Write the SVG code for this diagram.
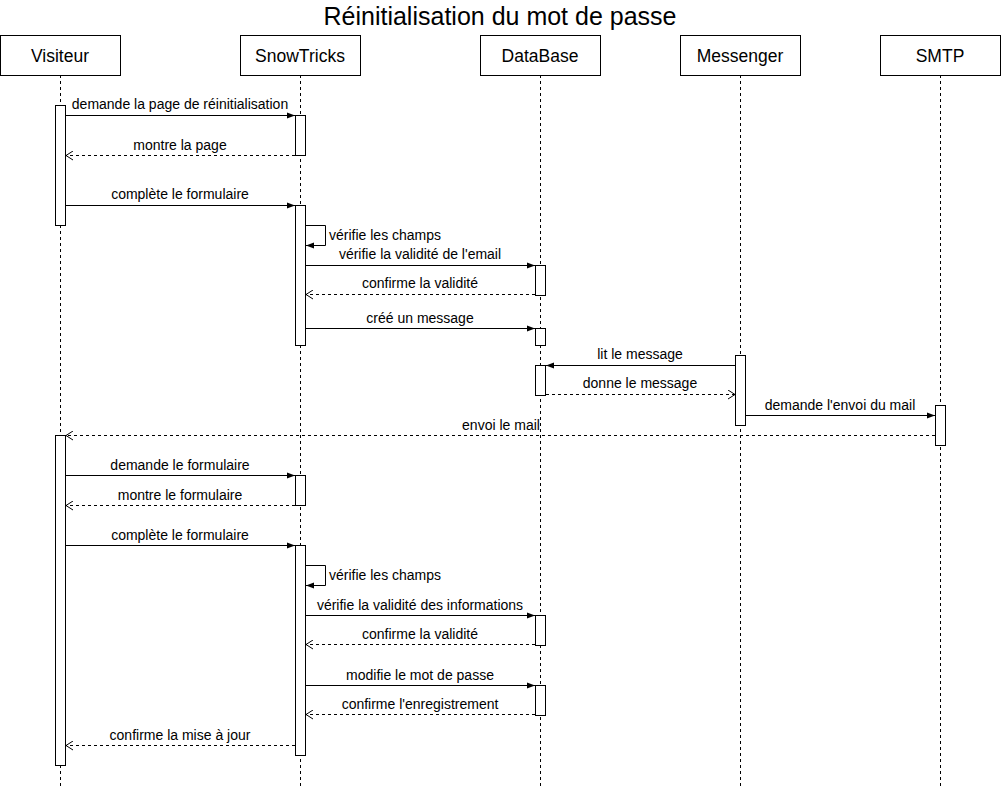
<svg xmlns="http://www.w3.org/2000/svg" width="1002" height="786" viewBox="0 0 1002 786">
<defs>
<style>
.box{fill:#fff;stroke:#000;stroke-width:1}
.life{stroke:#000;stroke-width:1;stroke-dasharray:3 3;fill:none}
.act{fill:#fff;stroke:#000;stroke-width:1}
.msg{stroke:#000;stroke-width:1;fill:none;marker-end:url(#filled)}
.ret{stroke:#000;stroke-width:1;fill:none;stroke-dasharray:3 3;marker-end:url(#open)}
.pt{font-family:"Liberation Sans",Arial,sans-serif;font-size:17.5px;fill:#000;text-anchor:middle}
.lb{font-family:"Liberation Sans",Arial,sans-serif;font-size:14px;fill:#000;text-anchor:middle}
.lbl{font-family:"Liberation Sans",Arial,sans-serif;font-size:14px;fill:#000;text-anchor:start}
.title{font-family:"Liberation Sans",Arial,sans-serif;font-size:25px;fill:#000;text-anchor:middle}
</style>
<marker id="filled" viewBox="0 0 10 10" refX="9" refY="5" markerWidth="10" markerHeight="10" markerUnits="userSpaceOnUse" orient="auto">
<path d="M1,2 L9,5 L1,8 Z" fill="#000"/>
</marker>
<marker id="open" viewBox="0 0 10 10" refX="9" refY="5" markerWidth="10" markerHeight="10" markerUnits="userSpaceOnUse" orient="auto">
<path d="M2,0.5 L9,5 L2,9.5" fill="none" stroke="#000" stroke-width="1"/>
</marker>
</defs>
<rect width="1002" height="786" fill="#fff"/>
<text class="title" x="500" y="25">Réinitialisation du mot de passe</text>

<g id="lifelines">
<line class="life" x1="60.5" y1="75" x2="60.5" y2="786"/>
<line class="life" x1="300.5" y1="75" x2="300.5" y2="786"/>
<line class="life" x1="540.5" y1="75" x2="540.5" y2="786"/>
<line class="life" x1="740.5" y1="75" x2="740.5" y2="786"/>
<line class="life" x1="940.5" y1="75" x2="940.5" y2="786"/>
</g>

<g id="visiteur">
<rect class="box" x="0.5" y="35.5" width="120" height="40"/>
<text class="pt" x="60" y="62">Visiteur</text>
</g>
<g id="snowtricks">
<rect class="box" x="240.5" y="35.5" width="120" height="40"/>
<text class="pt" x="300" y="62">SnowTricks</text>
</g>
<g id="database">
<rect class="box" x="480.5" y="35.5" width="120" height="40"/>
<text class="pt" x="540" y="62">DataBase</text>
</g>
<g id="messenger">
<rect class="box" x="680.5" y="35.5" width="120" height="40"/>
<text class="pt" x="740" y="62">Messenger</text>
</g>
<g id="smtp">
<rect class="box" x="880.5" y="35.5" width="120" height="40"/>
<text class="pt" x="940" y="62">SMTP</text>
</g>

<g id="activations">
<rect class="act" x="55.5" y="105.5" width="10" height="120"/>
<rect class="act" x="55.5" y="435.5" width="10" height="330"/>
<rect class="act" x="295.5" y="115.5" width="10" height="40"/>
<rect class="act" x="295.5" y="205.5" width="10" height="140"/>
<rect class="act" x="295.5" y="475.5" width="10" height="30"/>
<rect class="act" x="295.5" y="545.5" width="10" height="210"/>
<rect class="act" x="535.5" y="265.5" width="10" height="30"/>
<rect class="act" x="535.5" y="328.5" width="10" height="17"/>
<rect class="act" x="535.5" y="365.5" width="10" height="30"/>
<rect class="act" x="535.5" y="615.5" width="10" height="30"/>
<rect class="act" x="535.5" y="685.5" width="10" height="30"/>
<rect class="act" x="735.5" y="355.5" width="10" height="70"/>
<rect class="act" x="935.5" y="405.5" width="10" height="40"/>
</g>

<g id="connectors">
<line class="msg" x1="66" y1="115.5" x2="295" y2="115.5"/>
<text class="lb" x="180" y="109">demande la page de réinitialisation</text>
<line class="ret" x1="295" y1="155.5" x2="66" y2="155.5"/>
<text class="lb" x="180" y="150">montre la page</text>
<line class="msg" x1="66" y1="205.5" x2="295" y2="205.5"/>
<text class="lb" x="180" y="199">complète le formulaire</text>
<path class="msg" d="M306,225.5 H325.5 V245.5 H306"/>
<text class="lbl" x="329" y="240">vérifie les champs</text>
<line class="msg" x1="306" y1="265.5" x2="535" y2="265.5"/>
<text class="lb" x="420" y="259">vérifie la validité de l'email</text>
<line class="ret" x1="535" y1="294.5" x2="306" y2="294.5"/>
<text class="lb" x="420" y="288">confirme la validité</text>
<line class="msg" x1="306" y1="328.5" x2="535" y2="328.5"/>
<text class="lb" x="420" y="323">créé un message</text>
<line class="msg" x1="735" y1="365.5" x2="546" y2="365.5"/>
<text class="lb" x="640" y="359">lit le message</text>
<line class="ret" x1="546" y1="394.5" x2="735" y2="394.5"/>
<text class="lb" x="640" y="388">donne le message</text>
<line class="msg" x1="746" y1="415.5" x2="935" y2="415.5"/>
<text class="lb" x="840" y="410">demande l'envoi du mail</text>
<line class="ret" x1="935" y1="435.5" x2="66" y2="435.5"/>
<text class="lb" x="501" y="430">envoi le mail</text>
<line class="msg" x1="66" y1="475.5" x2="295" y2="475.5"/>
<text class="lb" x="180" y="470">demande le formulaire</text>
<line class="ret" x1="295" y1="505.5" x2="66" y2="505.5"/>
<text class="lb" x="180" y="500">montre le formulaire</text>
<line class="msg" x1="66" y1="545.5" x2="295" y2="545.5"/>
<text class="lb" x="180" y="540">complète le formulaire</text>
<path class="msg" d="M306,565.5 H325.5 V585.5 H306"/>
<text class="lbl" x="329" y="580">vérifie les champs</text>
<line class="msg" x1="306" y1="615.5" x2="535" y2="615.5"/>
<text class="lb" x="420" y="610">vérifie la validité des informations</text>
<line class="ret" x1="535" y1="644.5" x2="306" y2="644.5"/>
<text class="lb" x="420" y="639">confirme la validité</text>
<line class="msg" x1="306" y1="685.5" x2="535" y2="685.5"/>
<text class="lb" x="420" y="680">modifie le mot de passe</text>
<line class="ret" x1="535" y1="714.5" x2="306" y2="714.5"/>
<text class="lb" x="420" y="709">confirme l'enregistrement</text>
<line class="ret" x1="295" y1="745.5" x2="66" y2="745.5"/>
<text class="lb" x="180" y="740">confirme la mise à jour</text>
</g>
</svg>
